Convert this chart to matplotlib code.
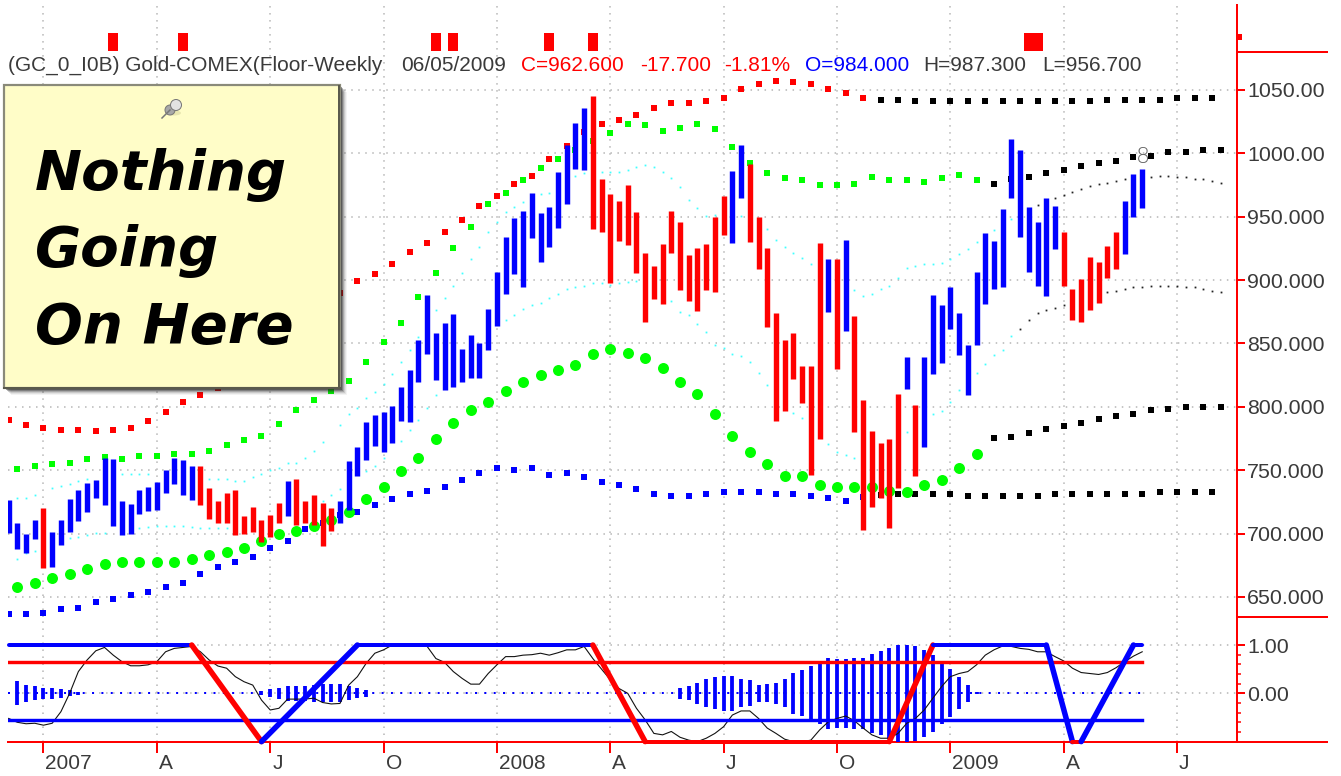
import numpy as np
import matplotlib
matplotlib.use("Agg")
import matplotlib.pyplot as plt
from matplotlib.patches import Rectangle, Circle, Ellipse

plt.rcParams['font.family'] = ['Liberation Sans', 'DejaVu Sans']

# ---------- weekly price bars ----------
highs = [726.5,708,700,711,720.5,701,711,727.5,734.5,740,742,760,759,726,723,734.5,737,741,750.5,759.5,
 758,753.5,753.5,736,726,732,734.5,714,721,711,715,724.5,741.5,743,726,730.5,724.5,720.5,726,757.5,
 768.5,788,793.5,796,800.5,815.5,829,853,888,858,866.5,873,846,857,850,877,906.5,934,949,954.5,
 968.5,953,957.5,985,1006.5,1024,1035.5,1045,979.5,968,962.5,975,954,921,911.5,928.5,954.5,946,920,925,
 928.5,950,966.5,986,1006.5,992,950,925,874,853,858,832,832,929.5,917,917,932,872,805.5,781,
 771.5,774.5,810,839,801.5,839,888,880,894.5,874,849,906.5,937,931,956,1011,1002.5,957.5,946,964.5,
 958.5,938,893,901,918.5,914.5,927,938,962.5,984,987.3]
lows = [700.5,688,685,696,672.5,674,691,701.5,710,717,728,722.5,706,699,700,715.5,718,718.5,732,739,
 730.5,726.5,722.5,711.5,708,708,699,700,701.5,693,697.5,708,714,707,708.5,707,690.5,702,708.5,718.5,
 745.5,758,769,764.5,771.5,789,788,820,842,821,813.5,816,820,822.5,822.5,845,864,889,905,894.5,
 933,914,926.5,941.5,960,988,987,940,938,897.5,930.5,928,905.5,867,885,881,921,892,883.5,875.5,
 892,891,935.5,929,965,930,908.5,863,789,797,822,803,746,775,875,830,860,780.5,703,721,
 728,704.5,736,814,745.5,768,826,834.5,861.5,841,809.5,849,881.5,893,894.5,964.5,934,906.5,895.5,887.5,
 924.5,895.5,868.5,867,876.5,882,901.5,909,920.5,949.5,956.7]
red_weeks = [4] + list(range(22,32)) + list(range(33,38)) + list(range(67,83)) + list(range(85,94)) \
            + [95] + list(range(97,103)) + [104] + list(range(121,128))

# ---------- channel bands (even weeks: outer top / bottom; odd weeks: others) ----------
top_red = [789.6,786,783,782,782,780.7,782,783,789,796,804,809.6,815,823.5,835.5,847,859,870,880,890,
 899,905,913,922.5,929.5,938,947.5,958.5,966.5,976,982,995.5,1006,1017,1023,1026,1030,1035.5,1040,1040,
 1041,1044,1050.5,1054.5,1057,1056,1055,1050.5,1048,1043.7]
top_black = [1042,1042,1041,1041,1041,1041,1041,1041,1041,1041,1041,1041,1041,1042,1042,1042,1042,1043.5,1043.5,1043.5]

upper_green = [750.7,753.3,754.7,756,759,760.7,759,761.5,761.5,763,763,765.5,770,774,776.8,786.5,797.5,805.5,812.5,820.5,
 835.6,851,866,887,906,925,942,960,969,979,988.7,995.5,1002.7,1010,1016.3,1023,1022,1017.7,1020,1023,
 1019,1005,992.4,984.3,980.6,979,975,975,976,981.6,979,979,977.4,980.3,983,979]
upper_black = [976,980,981.6,984.3,987,990,992.6,994,997,998,1001,1001,1002.4,1002.4]

mid_green = [658,661.3,665,668,672,676,677.6,677.6,677.6,677.6,680,683,685.7,688.4,694,699.4,702.3,706.2,710.7,717.3,
 727,736.8,749.4,760,775,787.3,797.5,804,812.5,819.4,825,829,833.3,841.5,845.6,842.7,838.5,830.4,819.4,810,
 794.4,777,764,754.7,745.5,745.5,738.3,737,737,737,734,732.7,738.3,742.3,752,763]
mid_black = [775.4,776.5,779.4,782.4,785,787.5,790.4,793,794.4,797.3,798.5,800,800,800]

low_blue = [636.3,636.8,637.6,640.5,641.5,645.8,648.6,651.3,654.2,658,661,668,673.4,677.6,681.5,688.4,694,703.6,708.4,714.7,
 717.3,722.8,727,731.2,733.9,736.8,742.3,747.8,751.8,750.4,751.8,746.2,747.8,744.9,741,738.1,735.2,731.2,729.7,729.7,
 731.2,732.8,732.8,732.8,731.2,731.2,730,728.3,725.7,728.9]
low_black = [730.5,731.2,731.2,731.2,731.2,730,730,730,730,730,731.2,731.2,731.2,731.2,731.2,731.2,732.6,732.6,732.6,732.6]

# ---------- inner dotted bands (only the dots that are visible) ----------
in_up_weeks = [1,2,3,5,6,7,8,9,13,14,15,16,23,24,25,26,27,28,29,30,31,32,33,34,35,36,38,39,40,41,42,43,44,45,46,47,
 49,50,51,52,53,54,55,56,57,58,59,61,62,65,66,68,69,70,71,72,73,74,75,76,77,78,79,80,81,84,87,88,89,90,91,92,
 97,98,99,100,101,102,103,104,105,106,107,108,109,110,111,112,113,115,
 118,120,121,122,123,124,125,126,127,128,131,132,133,134,135,136,137,138,139]
in_up = [727.8,727.8,730.5,735.7,737.6,738.9,741.5,743.1,746.8,746.8,746.8,746.8,743.1,743.1,743.1,741.5,741.5,744.4,746.8,750.2,751.5,755.5,755.9,759.4,765.2,772,785.7,794.1,799.1,807,812,818,825.7,835.1,844.9,855.4,
 876.4,886.1,895.6,905.8,916.4,925.9,938.2,946.1,953.5,957.9,961.9,967.7,968.5,982.4,984.3,985.1,985.1,985.5,986.9,989.5,990.8,989.5,985.5,980.8,973.2,963.2,956.7,950.8,951.4,950.8,940,931.6,925.9,921.6,917.7,912.5,
 892.2,887.5,889,893,895.6,901.4,909.6,911.1,912.5,912.5,913.8,916.7,920.7,924.5,930,935.6,939.8,948,
 959.3,964.6,967.2,969.9,971.8,974.3,975.6,976.9,978.4,979.8,981.1,982.4,981.9,981.1,981.1,979.8,979.8,978.4,976.9]
in_lo_weeks = [1,2,3,7,8,9,10,11,15,16,17,18,19,20,21,22,23,24,25,36,37,38,41,42,43,45,46,47,48,49,
 57,58,59,60,61,62,63,64,65,66,67,68,69,70,71,72,76,77,78,79,80,81,82,83,84,85,86,87,90,91,94,95,96,97,
 103,106,107,108,109,111,112,113,114,115,116,117,
 118,119,120,121,126,127,128,129,130,131,132,133,134,135,136,137,138,139]
in_lo = [680,684.5,686.5,696.3,697.6,698.9,700.2,700.7,704.7,705.4,706,706.2,706.2,706.2,705.4,704.7,704.2,704.2,704.2,726,730.5,735,749.6,753.6,759.4,773.3,781.7,790,799.3,809.4,
 868.5,872.5,877,880.4,882.2,886.1,889,893,894.3,895.6,897.5,897.5,896.1,897.5,898.3,899.5,883.5,875,872.5,865.4,858.8,848.8,846.2,841.7,840.4,835.1,826.9,817.2,795.4,791,770.5,764.6,762,759.4,
 780,794.1,796.7,803.6,813.3,827,833.8,840.9,844.9,856.1,861.4,868.5,
 873.8,876.4,877.7,880.4,890.4,891.7,893,894.3,894.3,895.6,895.6,895.6,895.6,894.3,894.3,893,891.7,890.4]

# ---------- signals and axes labels ----------
signal_weeks = [12,20,49,51,62,67,117,118]
signal_top, signal_bottom = 1095, 1081
price_ticks = [1050,1000,950,900,850,800,750,700,650]
price_labels = ['1050.00','1000.00','950.000','900.000','850.000','800.000','750.000','700.000','650.000']
time_ticks = [4,17,30,43,56,69,82,95,108,121,134]
time_labels = ['2007','A','J','O','2008','A','J','O','2009','A','J']

# ---------- oscillator ----------
osc_line = [-.52,-.6,-.63,-.62,-.66,-.62,-.38,0,.45,.69,.88,.95,.79,.655,.57,.57,.59,.655,.86,.93,
 .95,.97,.86,.69,.565,.52,.345,.24,.17,-.14,-.345,-.31,-.12,-.12,-.12,-.1,-.19,-.22,-.21,.17,
 .345,.62,.83,.9,1,1,1,1,.97,.72,.64,.45,.31,.19,.19,.41,.59,.76,.76,.79,
 .8,.83,.79,.84,.9,.9,.97,.72,.5,.28,.1,0,-.31,-.55,-.83,-.86,-.79,-.91,-.97,-1,
 -.93,-.83,-.69,-.45,-.365,-.365,-.52,-.72,-.83,-.95,-1,-1,-.97,-.76,-.59,-.52,-.47,-.57,-.72,-.86,
 -.93,-.93,-.83,-.62,-.52,-.345,-.1,.14,.345,.41,.45,.59,.79,.9,.98,.97,.93,.91,.86,.86,
 .76,.67,.52,.43,.41,.39,.43,.53,.655,.77,.86]
hist_weeks = [1,2,3,4,5,6,7,8,29,30,31,32,33,34,35,36,37,38,39,40,41]+list(range(77,112))
hist_half = [.25,.17,.145,.115,.115,.09,.06,.03,.04,.085,.12,.15,.15,.15,.17,.19,.19,.19,.145,.1,.07,
 .115,.145,.215,.29,.33,.36,.36,.29,.27,.18,.19,.22,.29,.43,.48,.575,.63,.73,.72,.72,.73,.74,.82,.87,.94,1.0,1.01,.98,.9,.8,.64,.5,.33,.18,.02]
swing_weeks = [0,21,29,40,67,73,101,106,119,122,123,129,130]
swing_vals  = [1,1,-1,1,1,-1,-1,1,1,-1,-1,1,1]
swing_cols  = ['b','r','b','b','r','r','r','b','b','r','b','b']
upper_level, lower_level = 0.64, -0.55
osc_ticks, osc_labels = [1,0], ['1.00','0.00']
osc_minor = [.8,.6,.4,.2,-.2,-.4,-.6,-.8]

RED, BLUE, GREEN, CYAN = '#FF0000', '#0000FF', '#00FF00', '#40FFFF'
TXT = '#3a3a3a'
W, H = 1341, 776
px = lambda v: v * 72 / 100
LAB = 15.4

fig = plt.figure(figsize=(W/100, H/100), dpi=100, facecolor='white')
def axes_px(x0, y0, x1, y1, **kw):
    return fig.add_axes([x0/W, 1-y1/H, (x1-x0)/W, (y1-y0)/H], **kw)

ax = axes_px(8, 5, 1237, 617)
ao = axes_px(8, 617, 1237, 742)
X0, X1 = -0.069, 140.87
for a in (ax, ao):
    a.set_xlim(X0, X1)
    for s in ('top', 'left', 'bottom'):
        a.spines[s].set_visible(False)
    a.spines['right'].set_color(RED)
    a.spines['right'].set_linewidth(px(2))
    a.set_axisbelow(True)
    a.yaxis.tick_right()
    a.set_xticks(time_ticks)
    a.grid(True, color='#b4b4b4', lw=px(1.5), ls=(0, (1, 3.67)))
ax.set_ylim(634.2, 1117.06)
ao.set_ylim(-1.008, 1.58)
ax.set_yticks(price_ticks, price_labels)
ax.tick_params(axis='y', colors=RED, labelcolor=TXT, length=px(8), width=px(2), labelsize=LAB, pad=1.5)
ax.tick_params(axis='x', length=0, labelbottom=False)
ao.set_yticks(osc_ticks, osc_labels)
ao.set_yticks(osc_minor, minor=True)
ao.tick_params(axis='y', which='major', colors=RED, labelcolor=TXT, length=px(8), width=px(2), labelsize=LAB, pad=1.5)
ao.tick_params(axis='y', which='minor', colors=RED, length=px(4), width=px(1.5))
ao.spines['bottom'].set_visible(True)
ao.spines['bottom'].set_color(RED)
ao.spines['bottom'].set_linewidth(px(2))
ao.set_xticks(time_ticks, time_labels, ha='left')
ao.tick_params(axis='x', colors=RED, labelcolor=TXT, length=px(11), width=px(2), labelsize=15, pad=1)
for lab in ao.get_xticklabels():
    lab.set_transform(lab.get_transform() + matplotlib.transforms.ScaledTranslation(px(2)/72, 0, fig.dpi_scale_trans))

even = lambda start, vals: start + 2*np.arange(len(vals))
def dots(a, xs, ys, c, s, m='s', z=3):
    a.plot(xs, ys, ls='none', marker=m, mfc=c, mec=c, ms=px(s), mew=0, zorder=z)

# channels
dots(ax, even(0, top_red), top_red, RED, 6)
dots(ax, even(100, top_black), top_black, 'black', 6)
dots(ax, even(1, upper_green), upper_green, GREEN, 6)
dots(ax, even(113, upper_black), upper_black, 'black', 6)
dots(ax, even(0, low_blue), low_blue, BLUE, 6)
dots(ax, even(100, low_black), low_black, 'black', 6)
dots(ax, even(1, mid_green), mid_green, GREEN, 11, 'o', 4)
dots(ax, even(113, mid_black), mid_black, 'black', 6)
# inner dots
for wk, vl in ((in_up_weeks, in_up), (in_lo_weeks, in_lo)):
    wk = np.array(wk); vl = np.array(vl)
    dots(ax, wk[wk < 116], vl[wk < 116], CYAN, 1.8, 's', 2)
    dots(ax, wk[wk >= 116], vl[wk >= 116], '#222222', 1.8, 's', 2)

# bars
weeks = np.arange(len(highs))
cols = [RED if w in red_weeks else BLUE for w in weeks]
ax.vlines(weeks, lows, highs, colors=cols, lw=px(5.4), zorder=5, capstyle='butt')
ax.vlines(signal_weeks, signal_bottom, signal_top, colors=RED, lw=px(10), zorder=5)
ax.text(130.05, 997.5, '8', color='#666666', fontsize=16, ha='center', va='center', zorder=6,
        family=['DejaVu Sans'], fontweight='light')

# oscillator
zero_end = 130
ao.plot([X0, zero_end], [0, 0], color=BLUE, lw=px(2), ls=(0, (1, 3.67)), zorder=2)
ao.vlines(hist_weeks, -np.array(hist_half), hist_half, colors=BLUE, lw=px(3.8), zorder=3)
ao.plot(weeks, osc_line, color='#111111', lw=px(1.1), zorder=4)
ao.plot([X0, zero_end], [upper_level]*2, color=RED, lw=px(3.4), zorder=5)
ao.plot([X0, zero_end], [lower_level]*2, color=BLUE, lw=px(3.4), zorder=5)
for k, c in enumerate(swing_cols):
    ao.plot(swing_weeks[k:k+2], swing_vals[k:k+2], color=RED if c == 'r' else BLUE,
            lw=px(5.5) if swing_vals[k] != swing_vals[k+1] else px(4), zorder=6, clip_on=False, solid_capstyle='round')

# overlay in figure pixels
ov = fig.add_axes([0, 0, 1, 1], zorder=10)
ov.set_xlim(0, W); ov.set_ylim(H, 0); ov.axis('off'); ov.patch.set_alpha(0)
for yy in (52, 617):
    ov.plot([1237, 1327], [yy, yy], color=RED, lw=px(2))
ov.plot([1237, 1327], [742.3, 742.3], color=RED, lw=px(2))
ov.add_patch(Rectangle((1238, 34), 4, 6, color=RED, lw=0))

# note
for off, al in ((7, .05), (6, .08), (5, .12), (4, .2), (3, .3), (2, .45)):
    ov.add_patch(Rectangle((4+off, 85+off), 336, 303, fc='#222222', ec='none', alpha=al))
ov.add_patch(Rectangle((4, 85), 336, 303, fc='#FFFDC8', ec='#8A8A7A', lw=px(2.2)))
ov.plot([339.5, 339.5], [86, 388], color='#5a5a4c', lw=px(2))
ov.plot([4, 340], [388, 388], color='#5a5a4c', lw=px(2))
ov.add_patch(Ellipse((174, 113), 14, 5, fc='#E8E6B0', ec='none'))
ov.plot([162, 170], [118, 110], color='#777777', lw=px(1.5))
ov.add_patch(Circle((170, 110), 5, fc='#A8A8A8', ec='#777777', lw=px(1)))
ov.add_patch(Circle((176, 105), 5.5, fc='#E2E2E2', ec='#777777', lw=px(1)))
for t, yb in (('Nothing', 190), ('Going', 266), ('On Here', 343)):
    ov.text(35, yb, t, fontsize=40.5, fontweight='bold', fontstyle='oblique', family=['DejaVu Sans'],
            color='black', ha='left', va='baseline')

# header
for t, x, c in (('(GC_0_I0B) Gold-COMEX(Floor-Weekly', 8, TXT), ('06/05/2009', 401, TXT), ('C=962.600', 521, RED),
                ('-17.700', 640, RED), ('-1.81%', 724, RED), ('O=984.000', 805, BLUE),
                ('H=987.300', 923, TXT), ('L=956.700', 1042, TXT)):
    ov.text(x, 71, t, color=c, fontsize=15, ha='left', va='baseline')

fig.savefig('out.png', dpi=100, facecolor='white')
